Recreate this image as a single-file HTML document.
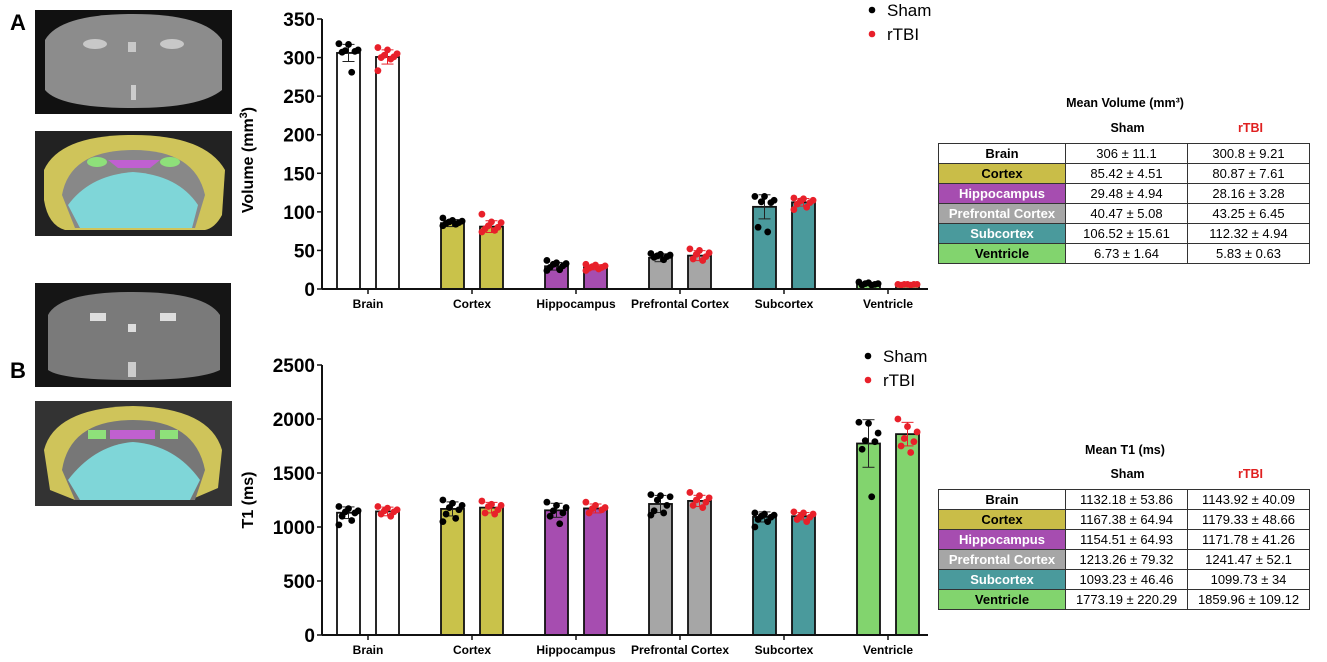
<!DOCTYPE html>
<html><head><meta charset="utf-8"><style>
body{margin:0;background:#fff;width:1327px;height:662px;overflow:hidden;font-family:"Liberation Sans",sans-serif;}
svg{position:absolute;left:0;top:0}
.tbl{position:absolute;border-collapse:collapse;font-size:13px;font-family:"Liberation Sans",sans-serif}
.tbl td{border:1.5px solid #333;height:19px;padding:0;text-align:center;line-height:19px}
.tbl td.l{font-weight:bold;width:126px}
.tbl td.v{width:121px}
.ttl{position:absolute;font-weight:bold;font-size:12.5px;text-align:center}
</style></head><body>
<svg id="fig" width="1327" height="662">
 <text x="10" y="30" font-size="22" font-weight="bold">A</text>
 <text x="10" y="378" font-size="22" font-weight="bold">B</text>
 <g>
  <rect x="35" y="10" width="197" height="104" fill="#111"/>
  <path d="M45 40 Q60 14 133 14 Q205 14 222 40 L222 90 Q200 108 133 108 Q60 108 45 90 Z" fill="#8c8c8c"/>
  <ellipse cx="95" cy="44" rx="12" ry="5" fill="#c8c8c8"/><ellipse cx="172" cy="44" rx="12" ry="5" fill="#c8c8c8"/>
  <rect x="128" y="42" width="8" height="10" fill="#c8c8c8"/><rect x="131" y="85" width="5" height="15" fill="#ccc"/>
 </g>
 <g>
  <rect x="35" y="131" width="197" height="105" fill="#222"/>
  <path d="M44 170 Q60 135 133 135 Q205 135 225 170 L222 215 Q215 228 205 230 L65 230 Q48 225 44 200 Z" fill="#cfc45a"/>
  <path d="M62 195 Q70 150 133 150 Q195 150 205 195 L195 228 L75 228 Z" fill="#888"/>
  <path d="M68 205 Q90 175 133 172 Q178 175 198 205 L192 228 L80 228 Z" fill="#7fd6d8"/>
  <path d="M108 160 L160 160 L150 168 L118 168 Z" fill="#c060d0"/>
  <ellipse cx="97" cy="162" rx="10" ry="5" fill="#8ee07a"/><ellipse cx="170" cy="162" rx="10" ry="5" fill="#8ee07a"/>
 </g>
 <g>
  <rect x="35" y="283" width="196" height="104" fill="#151515"/>
  <path d="M48 315 Q60 292 133 292 Q205 292 220 315 L220 370 Q200 380 133 380 Q62 380 48 370 Z" fill="#7a7a7a"/>
  <rect x="90" y="313" width="16" height="8" fill="#ddd"/><rect x="160" y="313" width="16" height="8" fill="#ddd"/>
  <rect x="128" y="324" width="8" height="8" fill="#ddd"/><rect x="128" y="362" width="8" height="15" fill="#ccc"/>
 </g>
 <g>
  <rect x="35" y="401" width="197" height="105" fill="#333"/>
  <path d="M44 450 Q55 408 133 406 Q210 408 222 450 L218 488 L190 500 L75 500 L50 490 Z" fill="#cfc45a"/>
  <path d="M62 470 Q70 420 133 420 Q195 420 205 470 L195 500 L75 500 Z" fill="#777"/>
  <path d="M68 480 Q95 445 133 442 Q175 445 200 480 L190 500 L80 500 Z" fill="#7fd6d8"/>
  <rect x="110" y="430" width="45" height="9" fill="#c060d0"/>
  <rect x="88" y="430" width="18" height="9" fill="#8ee07a"/><rect x="160" y="430" width="18" height="9" fill="#8ee07a"/>
 </g>
 <g id="chartA"></g>
 <g id="chartB"></g>
</svg>

<div class="ttl" style="left:1025px;top:96px;width:200px">Mean Volume (mm³)</div>
<div class="ttl" style="left:1066px;top:121px;width:123px">Sham</div>
<div class="ttl" style="left:1189px;top:121px;width:123px;color:#e02020">rTBI</div>
<table class="tbl" style="left:938px;top:143px">
<tr><td class="l">Brain</td><td class="v">306 ± 11.1</td><td class="v">300.8 ± 9.21</td></tr>
<tr><td class="l" style="background:#c9bd48">Cortex</td><td class="v">85.42 ± 4.51</td><td class="v">80.87 ± 7.61</td></tr>
<tr><td class="l" style="background:#a64db0;color:#fff">Hippocampus</td><td class="v">29.48 ± 4.94</td><td class="v">28.16 ± 3.28</td></tr>
<tr><td class="l" style="background:#a6a6a6;color:#fff">Prefrontal Cortex</td><td class="v">40.47 ± 5.08</td><td class="v">43.25 ± 6.45</td></tr>
<tr><td class="l" style="background:#4a9a9c;color:#fff">Subcortex</td><td class="v">106.52 ± 15.61</td><td class="v">112.32 ± 4.94</td></tr>
<tr><td class="l" style="background:#82d46e">Ventricle</td><td class="v">6.73 ± 1.64</td><td class="v">5.83 ± 0.63</td></tr>
</table>

<div class="ttl" style="left:1025px;top:443px;width:200px">Mean T1 (ms)</div>
<div class="ttl" style="left:1066px;top:467px;width:123px">Sham</div>
<div class="ttl" style="left:1189px;top:467px;width:123px;color:#e02020">rTBI</div>
<table class="tbl" style="left:938px;top:489px">
<tr><td class="l">Brain</td><td class="v">1132.18 ± 53.86</td><td class="v">1143.92 ± 40.09</td></tr>
<tr><td class="l" style="background:#c9bd48">Cortex</td><td class="v">1167.38 ± 64.94</td><td class="v">1179.33 ± 48.66</td></tr>
<tr><td class="l" style="background:#a64db0;color:#fff">Hippocampus</td><td class="v">1154.51 ± 64.93</td><td class="v">1171.78 ± 41.26</td></tr>
<tr><td class="l" style="background:#a6a6a6;color:#fff">Prefrontal Cortex</td><td class="v">1213.26 ± 79.32</td><td class="v">1241.47 ± 52.1</td></tr>
<tr><td class="l" style="background:#4a9a9c;color:#fff">Subcortex</td><td class="v">1093.23 ± 46.46</td><td class="v">1099.73 ± 34</td></tr>
<tr><td class="l" style="background:#82d46e">Ventricle</td><td class="v">1773.19 ± 220.29</td><td class="v">1859.96 ± 109.12</td></tr>
</table>

<script>
const categories = ["Brain","Cortex","Hippocampus","Prefrontal Cortex","Subcortex","Ventricle"];
const volShamMean = [306,85.42,29.48,40.47,106.52,6.73];
const volShamSD = [11.1,4.51,4.94,5.08,15.61,1.64];
const volRtbiMean = [300.8,80.87,28.16,43.25,112.32,5.83];
const volRtbiSD = [9.21,7.61,3.28,6.45,4.94,0.63];
const volShamPts = [[318,317,310,309,308,307,281],[92,89,88,87,86,85,84,82],[37,34,33,32,30,28,25,24],[46,45,44,43,42,41,38],[120,120,115,113,112,80,74],[9,8,7,7,6,5,5]];
const volRtbiPts = [[313,310,305,303,301,300,298,283],[97,87,86,82,80,78,76,74],[32,31,30,29,28,27,26,24],[52,50,47,45,42,39,37],[118,117,115,114,112,110,106,103],[6,6,6,6,6,5,5]];
const volTicks = [0,50,100,150,200,250,300,350];
const t1ShamMean = [1132.18,1167.38,1154.51,1213.26,1093.23,1773.19];
const t1ShamSD = [53.86,64.94,64.93,79.32,46.46,220.29];
const t1RtbiMean = [1143.92,1179.33,1171.78,1241.47,1099.73,1859.96];
const t1RtbiSD = [40.09,48.66,41.26,52.1,34,109.12];
const t1ShamPts = [[1190,1170,1150,1140,1130,1100,1060,1020],[1250,1220,1200,1180,1160,1120,1080,1050],[1230,1200,1180,1150,1130,1100,1030],[1300,1290,1280,1250,1200,1150,1130,1110],[1130,1120,1110,1100,1090,1070,1050,1000],[1970,1960,1870,1800,1790,1720,1280]];
const t1RtbiPts = [[1190,1175,1160,1150,1140,1120,1100],[1240,1210,1200,1190,1160,1130,1120],[1230,1200,1180,1170,1160,1130],[1320,1290,1270,1250,1230,1200,1180],[1140,1130,1120,1100,1090,1070,1050],[2000,1930,1880,1820,1790,1750,1690]];
const t1Ticks = [0,500,1000,1500,2000,2500];
const colors = ["#ffffff","#c9c24a","#a64db0","#a6a6a6","#4a9a9c","#82d46e"];
const NS="http://www.w3.org/2000/svg";
function el(p,tag,a,txt){const e=document.createElementNS(NS,tag);for(const k in a)e.setAttribute(k,a[k]);if(txt!==undefined)e.textContent=txt;p.appendChild(e);return e;}
function drawChart(g,o){
  const x0=322,xEnd=928,y0=o.y0,yTop=o.yTop,max=o.ticks[o.ticks.length-1];
  const Y=v=>y0-(v/max)*(y0-yTop);
  const X=i=>368+i*104;
  const bw=23;
  categories.forEach((c,i)=>{
    [[o.sm,o.ssd,o.sp,-19.5,"#000"],[o.rm,o.rsd,o.rp,19.5,"#e8202a"]].forEach(([m,sd,pts,off,dc],s)=>{
      const cx=X(i)+off;
      const b=el(g,"rect",{x:cx-bw/2,y:Y(m[i]),width:bw,height:y0-Y(m[i]),fill:colors[i],stroke:"#111","stroke-width":1.8});
      
      
      el(g,"line",{x1:cx,x2:cx,y1:Y(m[i]+sd[i]),y2:Y(m[i]-sd[i]),stroke:s?"#e8202a":"#222","stroke-width":1});
      el(g,"line",{x1:cx-6,x2:cx+6,y1:Y(m[i]+sd[i]),y2:Y(m[i]+sd[i]),stroke:s?"#e8202a":"#222","stroke-width":1});
      el(g,"line",{x1:cx-6,x2:cx+6,y1:Y(m[i]-sd[i]),y2:Y(m[i]-sd[i]),stroke:s?"#e8202a":"#222","stroke-width":1});
      pts[i].forEach((v,k)=>{
        const jx=((k*3)%7-3)*3.2;
        const d=el(g,"circle",{cx:cx+jx,cy:Y(v),r:3.4,fill:dc});
        
        
      });
    });
    el(g,"line",{x1:X(i),x2:X(i),y1:y0,y2:y0+5,stroke:"#111","stroke-width":1.5});
    const t=el(g,"text",{x:X(i),y:y0+19,"text-anchor":"middle","font-size":12,"font-weight":"bold"},c);
    
    
  });
  el(g,"line",{x1:x0,x2:x0,y1:yTop,y2:y0,stroke:"#111","stroke-width":2});
  el(g,"line",{x1:x0,x2:xEnd,y1:y0,y2:y0,stroke:"#111","stroke-width":2});
  o.ticks.forEach(v=>{
    el(g,"line",{x1:x0-5,x2:x0,y1:Y(v),y2:Y(v),stroke:"#111","stroke-width":1.5});
    const t=el(g,"text",{x:x0-7,y:Y(v)+7,"text-anchor":"end","font-size":19,"font-weight":"bold","font-family":"Liberation Sans Narrow, Liberation Sans, sans-serif"},v);
    
    
  });
  const yt=el(g,"text",{x:0,y:0,transform:`translate(${o.ytx},${o.yty}) rotate(-90)`,"text-anchor":"middle","font-size":16,"font-weight":"bold"});
  yt.innerHTML=o.ylab;
  
  
  [["Sham","#000",o.ly],["rTBI","#e8202a",o.ly+24]].forEach(([n,c,y])=>{
    const lg=el(g,"g",{});
    
    
    el(lg,"circle",{cx:o.lx,cy:y,r:3.3,fill:c});
    el(lg,"text",{x:o.lx+15,y:y+6,"font-size":17},n);
  });
}
drawChart(document.getElementById("chartA"),{y0:289,yTop:19,ticks:volTicks,sm:volShamMean,ssd:volShamSD,sp:volShamPts,rm:volRtbiMean,rsd:volRtbiSD,rp:volRtbiPts,ylab:'Volume (mm<tspan baseline-shift="super" font-size="11">3</tspan>)',ytx:253,yty:160,lx:872,ly:10});
drawChart(document.getElementById("chartB"),{y0:635,yTop:365,ticks:t1Ticks,sm:t1ShamMean,ssd:t1ShamSD,sp:t1ShamPts,rm:t1RtbiMean,rsd:t1RtbiSD,rp:t1RtbiPts,ylab:'T1 (ms)',ytx:253,yty:500,lx:868,ly:356});
</script>
</body></html>
